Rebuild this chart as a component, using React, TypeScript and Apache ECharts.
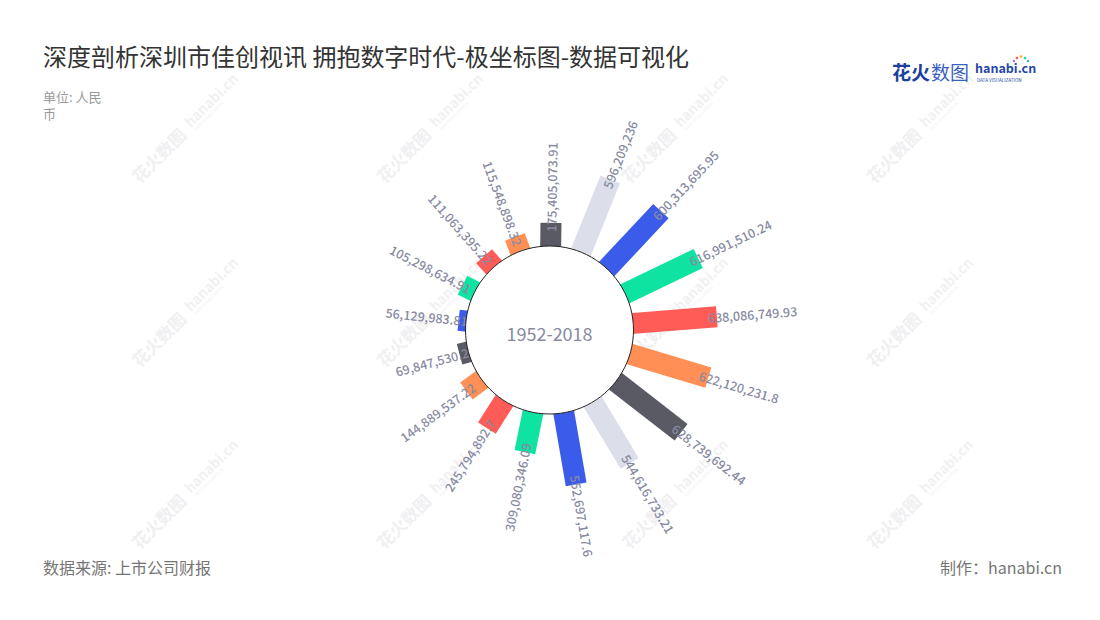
import React, { useEffect, useRef } from "react";
import * as echarts from "echarts";

const CATEGORIES = [
  "项目1", "项目2", "项目3", "项目4", "项目5", "项目6", "项目7", "项目8", "项目9",
  "项目10", "项目11", "项目12", "项目13", "项目14", "项目15", "项目16", "项目17",
];
const VALUES = [
  56129983.81, 105298634.91, 111063395.22, 115548898.32, 175405073.91,
  596209236, 600313695.95, 616991510.24, 638086749.93, 622120231.8,
  628739692.44, 544616733.21, 552697117.6, 309080346.09, 245794892.7,
  144889537.22, 69847530.2,
];
const PALETTE = ["#3b5bea", "#0ee3a2", "#ff5b57", "#ff8f55", "#5a5a65", "#dcdfea"];
const TITLE = "深度剖析深圳市佳创视讯 拥抱数字时代-极坐标图-数据可视化";
const UNIT_LINES = ["单位: 人民", "币"];
const SOURCE = "数据来源: 上市公司财报";
const MAKER = "制作：hanabi.cn";
const CENTER_LABEL = "1952-2018";
const RADIUS_MAX = 700000000;

const FONT = "'Noto Sans CJK SC', 'Noto Sans', sans-serif";
const CX = 549.5;
const CY = 330;
const R0 = 84;
const R1 = 176;
const BAR_W = 21;
const LABEL_COLOR = "#888aa2";

function fmt(v: number) {
  return v.toLocaleString("en-US", { maximumFractionDigits: 2 });
}

function watermark(x: number, y: number) {
  return {
    type: "group",
    x,
    y,
    rotation: Math.PI / 4,
    z: -10,
    silent: true,
    children: [
      {
        type: "text",
        x: -72,
        y: 0,
        style: { text: "花火数图", fontSize: 17, fontWeight: "bold", fontFamily: FONT, fill: "#f0f0f2", align: "left", verticalAlign: "middle" },
      },
      {
        type: "text",
        x: 4,
        y: -2,
        style: { text: "hanabi.cn", fontSize: 14, fontWeight: "bold", fontFamily: FONT, fill: "#f1f1f3", align: "left", verticalAlign: "middle" },
      },
      {
        type: "text",
        x: 6,
        y: 8,
        style: { text: "DATA VISUALIZATION", fontSize: 4, fontFamily: FONT, fill: "#f1f1f3", align: "left", verticalAlign: "middle" },
      },
    ],
  };
}

export default function App() {
  const ref = useRef<HTMLDivElement>(null);

  useEffect(() => {
    if (!ref.current) return;
    const chart = echarts.init(ref.current, null, { renderer: "svg" });

    const wmCols = [185, 430, 675, 920];
    const wmRows = [128, 312, 494];
    const marks: any[] = [];
    wmRows.forEach((y) => wmCols.forEach((x) => marks.push(watermark(x, y))));

    const renderItem = (params: any, api: any) => {
      const i = params.dataIndex;
      const v = api.value(0);
      const p0 = api.coord([0, i]);
      const p1 = api.coord([v, i]);
      const dx = p1[0] - p0[0];
      const dy = p1[1] - p0[1];
      const len = Math.sqrt(dx * dx + dy * dy) || 1;
      const ux = dx / len;
      const uy = dy / len;
      const nx = -uy;
      const ny = ux;
      const h = BAR_W / 2;
      const sx = p0[0] - ux * 6;
      const sy = p0[1] - uy * 6;
      const points = [
        [sx + nx * h, sy + ny * h],
        [p1[0] + nx * h, p1[1] + ny * h],
        [p1[0] - nx * h, p1[1] - ny * h],
        [sx - nx * h, sy - ny * h],
      ];
      const theta = Math.atan2(-uy, ux);
      const right = Math.cos(theta) >= 0;
      const lx = p1[0] - ux * 9;
      const ly = p1[1] - uy * 9;
      return {
        type: "group",
        children: [
          {
            type: "polygon",
            shape: { points },
            style: { fill: PALETTE[i % PALETTE.length] },
          },
          {
            type: "text",
            x: lx,
            y: ly,
            rotation: right ? theta : theta - Math.PI,
            style: {
              text: fmt(v),
              fill: LABEL_COLOR,
              fontSize: 12.5,
              fontWeight: 500,
              fontFamily: FONT,
              align: right ? "left" : "right",
              verticalAlign: "middle",
            },
          },
        ],
      };
    };

    chart.setOption({
      animation: false,
      backgroundColor: "#ffffff",
      polar: { center: [CX, CY], radius: [R0, R1] },
      angleAxis: {
        type: "category",
        data: CATEGORIES,
        startAngle: 184.5,
        clockwise: true,
        axisLine: { show: false },
        axisTick: { show: false },
        axisLabel: { show: false },
        splitLine: { show: false },
      },
      radiusAxis: {
        type: "value",
        min: 0,
        max: RADIUS_MAX,
        axisLine: { show: false },
        axisTick: { show: false },
        axisLabel: { show: false },
        splitLine: { show: false },
      },
      series: [
        {
          type: "custom",
          coordinateSystem: "polar",
          data: VALUES.map((v, i) => [v, i]),
          renderItem,
        },
      ],
      graphic: [
        ...marks,
        {
          type: "text",
          x: 43,
          y: 55,
          style: { text: TITLE, fontSize: 24, fontFamily: FONT, fill: "#333333", align: "left", verticalAlign: "middle" },
        },
        ...UNIT_LINES.map((t, k) => ({
          type: "text",
          x: 43,
          y: 96 + k * 17,
          style: { text: t, fontSize: 13, lineHeight: 14, fontFamily: FONT, fill: "#999999", align: "left", verticalAlign: "middle" },
        })),
        {
          type: "text",
          x: 43,
          y: 567,
          style: { text: SOURCE, fontSize: 16, fontFamily: FONT, fill: "#757575", align: "left", verticalAlign: "middle" },
        },
        {
          type: "text",
          x: 1062,
          y: 567,
          style: { text: MAKER, fontSize: 16, fontFamily: FONT, fill: "#757575", align: "right", verticalAlign: "middle" },
        },
        // logo
        {
          type: "text",
          x: 892,
          y: 71,
          style: { text: "花火", fontSize: 19, fontWeight: "bold", fontFamily: FONT, fill: "#1d3f9c", align: "left", verticalAlign: "middle" },
        },
        {
          type: "text",
          x: 931,
          y: 71,
          style: { text: "数图", fontSize: 19, fontFamily: FONT, fill: "#3a5fc2", align: "left", verticalAlign: "middle" },
        },
        {
          type: "text",
          x: 975,
          y: 67.5,
          style: { text: "hanabi.cn", fontSize: 12.5, fontWeight: "bold", fontFamily: FONT, fill: "#2447a8", align: "left", verticalAlign: "middle", lineHeight: 12 },
        },
        {
          type: "text",
          x: 977,
          y: 79.5,
          style: { text: "DATA VISUALIZATION", fontSize: 4.6, fontFamily: FONT, fill: "#2447a8", align: "left", verticalAlign: "middle", lineHeight: 5 },
        },
        { type: "circle", shape: { cx: 1017, cy: 58, r: 1.3 }, style: { fill: "#ff5b57" } },
        { type: "circle", shape: { cx: 1021, cy: 56.5, r: 1.3 }, style: { fill: "#ffb020" } },
        { type: "circle", shape: { cx: 1025, cy: 58, r: 1.3 }, style: { fill: "#0ee3a2" } },
        { type: "circle", shape: { cx: 1014, cy: 61, r: 1.2 }, style: { fill: "#b05be8" } },
        { type: "circle", shape: { cx: 1028, cy: 61, r: 1.2 }, style: { fill: "#3b9bea" } },
        // center disc
        {
          type: "circle",
          z: 100,
          shape: { cx: CX, cy: CY, r: R0 },
          style: { fill: "#ffffff", stroke: "#222222", lineWidth: 1 },
        },
        {
          type: "text",
          z: 101,
          x: CX,
          y: CY + 3,
          style: { text: CENTER_LABEL, fontSize: 18, fontFamily: FONT, fill: LABEL_COLOR, align: "center", verticalAlign: "middle" },
        },
      ],
    });

    return () => chart.dispose();
  }, []);

  return (
    <div
      ref={ref}
      style={{ position: "absolute", left: 0, top: 0, width: 1100, height: 620 }}
    />
  );
}
